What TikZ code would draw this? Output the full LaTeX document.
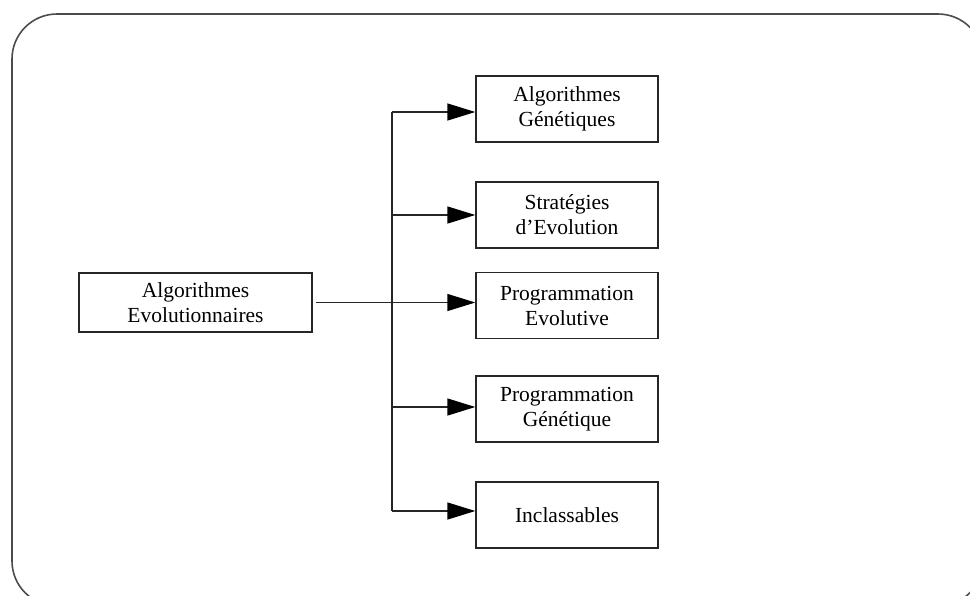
\documentclass[tikz,border=0pt]{standalone}
\usepackage{fontspec}
\setmainfont{Liberation Serif}
\usetikzlibrary{arrows.meta}
\begin{document}
\begin{tikzpicture}[x=1pt,y=-1pt,
  catbox/.style={draw=black!85,line width=1.4pt,minimum width=182pt,minimum height=66pt,
    align=center,inner sep=0pt,font=\fontsize{21.5}{25}\selectfont},
  link/.style={draw=black!85,line width=1.4pt},
  tip/.style={-{Triangle[length=28pt,width=17pt,fill=black,color=black]}}]
\useasboundingbox (0,0) rectangle (970,595);
% outer rounded frame (runs past the page on the right and at the bottom)
\draw[black!70,line width=1.6pt,rounded corners=45pt] (12,14) rectangle (983,606);
% root
\node[catbox,minimum width=233pt,minimum height=59pt] (root) at (195.5,302.5)
  {Algorithmes\\Evolutionnaires};
% families
\node[catbox] (ag) at (567,109) {Algorithmes\\Génétiques};
\node[catbox] (se) at (567,215) {Stratégies\\d’Evolution};
\node[catbox] (pe) at (567,305.5) {Programmation\\Evolutive};
\node[catbox] (pg) at (567,409) {Programmation\\Génétique};
\node[catbox] (ic) at (567,515) {Inclassables};
% trunk
\coordinate (top) at (392,112);
\coordinate (bot) at (392,511);
\draw[link] (top) -- (bot);
\draw[link,tip] (top) -- (ag.west |- top);
\draw[link,tip] (392,215) -- (se.west |- 0,215);
\draw[link,tip] ([xshift=3pt]root.east) -- (pe.west |- root.east);
\draw[link,tip] (392,407) -- (pg.west |- 0,407);
\draw[link,tip] (bot) -- (ic.west |- bot);
\end{tikzpicture}
\end{document}
